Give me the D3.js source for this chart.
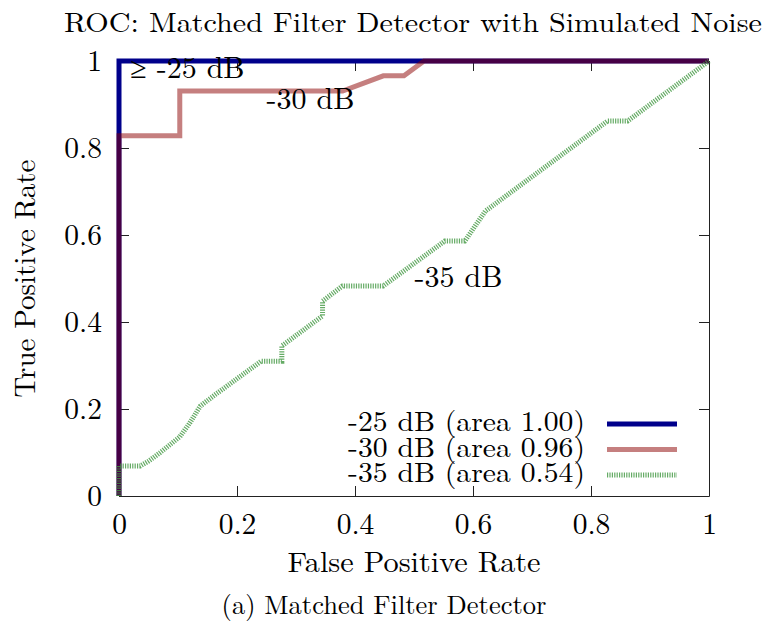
<!DOCTYPE html>
<html>
<head>
<meta charset="utf-8">
<script src="https://cdn.jsdelivr.net/npm/d3@7"></script>
<style>
  body { margin: 0; background: #fff; }
</style>
</head>
<body>
<svg id="roc"></svg>
<script>
// ROC curves
const fpr25 = [0, 0, 1];
const tpr25 = [0, 1, 1];

const fpr30 = [0, 0, 0.103, 0.103, 0.379, 0.448, 0.483, 0.517, 1];
const tpr30 = [0, 0.828, 0.828, 0.931, 0.931, 0.966, 0.966, 1, 1];

const fpr35 = [0, 0, 0.036, 0.05, 0.069, 0.103, 0.12, 0.138, 0.165, 0.241, 0.276, 0.276, 0.345, 0.345, 0.379, 0.448, 0.552, 0.586, 0.621, 0.828, 0.862, 1];
const tpr35 = [0, 0.069, 0.069, 0.08, 0.099, 0.136, 0.168, 0.207, 0.235, 0.31, 0.31, 0.345, 0.414, 0.448, 0.483, 0.483, 0.586, 0.586, 0.655, 0.862, 0.862, 1];

const seriesNames = ["-25 dB (area 1.00)", "-30 dB (area 0.96)", "-35 dB (area 0.54)"];
const curveLabels = ["\u2265 -25 dB", "-30 dB", "-35 dB"];
const labelPos = [[0.019, 0.96], [0.25, 0.889], [0.501, 0.481]];
const tickValues = [0, 0.2, 0.4, 0.6, 0.8, 1];

const titleText = "ROC: Matched Filter Detector with Simulated Noise";
const xLabel = "False Positive Rate";
const yLabel = "True Positive Rate";
const caption = "(a) Matched Filter Detector";

const serif = "\"Latin Modern Roman\", \"CMU Serif\", \"Liberation Serif\", serif";

var w = 768;
var h = 629;
let margin = ({ top: 61, right: 59, bottom: 133, left: 119 });

var svg = d3.select("#roc")
    .attr("width", w)
    .attr("height", h)
    .style("font-family", serif)

var xScale = d3.scaleLinear()
    .domain([0, 1])
    .range([margin.left, w - margin.right])

var yScale = d3.scaleLinear()
    .domain([0, 1])
    .range([h - margin.bottom, margin.top])

const styles = [
    { stroke: "#00008b", opacity: 1, dash: null },
    { stroke: "#8b0000", opacity: 0.5, dash: null },
    { stroke: "#3f963f", opacity: 0.8, dash: "1.2,1.2" }
];

const curves = [
    fpr25.map((f, i) => [f, tpr25[i]]),
    fpr30.map((f, i) => [f, tpr30[i]]),
    fpr35.map((f, i) => [f, tpr35[i]])
];

// axes with inward ticks on all four sides
svg.append("g")
    .attr("transform", `translate(0,${yScale(0)})`)
    .call(d3.axisBottom(xScale).tickValues(tickValues).tickSizeInner(-10).tickSizeOuter(0).tickPadding(17).tickFormat(d3.format("~g")))
    .call(g => g.selectAll("text").style("font-family", serif).style("font-size", "29.5px"))

svg.append("g")
    .attr("transform", `translate(${xScale(0)},0)`)
    .call(d3.axisLeft(yScale).tickValues(tickValues).tickSizeInner(-10).tickSizeOuter(0).tickPadding(17).tickFormat(d3.format("~g")))
    .call(g => g.selectAll("text").style("font-family", serif).style("font-size", "29.5px"))

svg.append("g")
    .attr("transform", `translate(0,${yScale(1)})`)
    .call(d3.axisTop(xScale).tickValues(tickValues).tickSizeInner(-10).tickSizeOuter(0).tickFormat(""))

svg.append("g")
    .attr("transform", `translate(${xScale(1)},0)`)
    .call(d3.axisRight(yScale).tickValues(tickValues).tickSizeInner(-10).tickSizeOuter(0).tickFormat(""))

svg.selectAll(".domain").attr("stroke", "#222")
svg.selectAll(".tick line").attr("stroke", "#222")

const line = d3.line()
    .x(d => xScale(d[0]))
    .y(d => yScale(d[1]))

svg.append("g")
    .selectAll("path")
    .data(curves)
    .join("path")
    .attr("d", line)
    .attr("fill", "none")
    .attr("stroke", (d, i) => styles[i].stroke)
    .attr("stroke-opacity", (d, i) => styles[i].opacity)
    .attr("stroke-dasharray", (d, i) => styles[i].dash)
    .attr("stroke-width", 5)
    .attr("stroke-linejoin", "miter")

// curve labels
svg.append("g")
    .selectAll("text")
    .data(curveLabels)
    .join("text")
    .attr("x", (d, i) => xScale(labelPos[i][0]))
    .attr("y", (d, i) => yScale(labelPos[i][1]))
    .style("font-size", "30px")
    .text(d => d)

// legend
const legend = svg.append("g")
    .selectAll("g")
    .data(seriesNames)
    .join("g")
    .attr("transform", (d, i) => `translate(0,${431 + i * 25.5})`)

legend.append("text")
    .attr("x", 585)
    .attr("text-anchor", "end")
    .attr("textLength", 237)
    .attr("lengthAdjust", "spacingAndGlyphs")
    .style("font-size", "28px")
    .text(d => d)

legend.append("line")
    .attr("x1", 607)
    .attr("x2", 677)
    .attr("y1", -7)
    .attr("y2", -7)
    .attr("stroke", (d, i) => styles[i].stroke)
    .attr("stroke-opacity", (d, i) => styles[i].opacity)
    .attr("stroke-dasharray", (d, i) => styles[i].dash)
    .attr("stroke-width", 5)

// titles
svg.append("text")
    .attr("x", 413)
    .attr("y", 32)
    .attr("text-anchor", "middle")
    .attr("textLength", 698)
    .attr("lengthAdjust", "spacingAndGlyphs")
    .style("font-size", "28px")
    .text(titleText)

svg.append("text")
    .attr("x", (xScale(0) + xScale(1)) / 2)
    .attr("y", 572)
    .attr("text-anchor", "middle")
    .attr("textLength", 253)
    .attr("lengthAdjust", "spacingAndGlyphs")
    .style("font-size", "28.5px")
    .text(xLabel)

svg.append("text")
    .attr("transform", `translate(35,${(yScale(0) + yScale(1)) / 2}) rotate(-90)`)
    .attr("text-anchor", "middle")
    .style("font-size", "29px")
    .text(yLabel)

svg.append("text")
    .attr("x", 384)
    .attr("y", 614)
    .attr("text-anchor", "middle")
    .style("font-size", "26.5px")
    .text(caption)
</script>
</body>
</html>
